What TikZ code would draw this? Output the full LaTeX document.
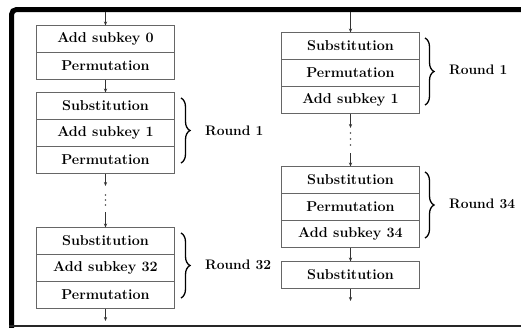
\documentclass[tikz,border=0pt]{standalone}
\usetikzlibrary{arrows.meta,decorations.pathreplacing}
\begin{document}
\begin{tikzpicture}[x=1pt,y=-1pt,
  row/.style={draw=black!60,line width=0.9pt,minimum width=138pt,minimum height=27pt,inner sep=0pt,outer sep=0pt,
    font=\fontsize{14.3}{16}\selectfont\bfseries,anchor=north},
  flow/.style={draw=black!80,line width=0.7pt,-{Stealth[length=4pt,width=3.2pt]}},
  rbrace/.style={draw=black,line width=1.3pt,decorate,decoration={brace,amplitude=9pt}},
  lbl/.style={font=\fontsize{13.8}{15}\selectfont\bfseries,anchor=west,inner sep=0pt},
  dot/.style={fill=black!70,circle,inner sep=0pt,minimum size=1.6pt}]
\useasboundingbox (0,0) rectangle (521,327);
% frame
\draw[line width=5pt,rounded corners=5pt] (11.5,330) -- (11.5,9.5) -- (530,9.5);
\draw[line width=1.6pt,black!85] (9,326) -- (521,326);

% left column
\coordinate (lin) at (105.5,12);
\node[row] (l1a) at (105.5,25.5) {Add subkey 0};
\node[row] (l1b) at (l1a.south) {Permutation};
\node[row] (l2a) at (105.5,92.5) {Substitution};
\node[row] (l2b) at (l2a.south) {Add subkey 1};
\node[row] (l2c) at (l2b.south) {Permutation};
\coordinate (ld1) at (105.5,186);
\coordinate (ld2) at (105.5,212);
\node[dot] (ldot1) at (105.5,195) {};
\node[dot] (ldot2) at (105.5,200) {};
\node[dot] (ldot3) at (105.5,205) {};
\node[row] (l3a) at (105.5,227.5) {Substitution};
\node[row] (l3b) at (l3a.south) {Add subkey 32};
\node[row] (l3c) at (l3b.south) {Permutation};
\coordinate (lout) at (105.5,321);
\draw[flow] (lin) -- (l1a.north);
\draw[flow] (l1b.south) -- (l2a.north);
\draw[flow] (l2c.south) -- (ld1);
\draw[flow] (ld2) -- (l3a.north);
\draw[flow] (l3c.south) -- (lout);
\draw[rbrace] (181,98) -- (181,163);
\node[lbl] (lr1) at (205,131) {Round 1};
\draw[rbrace] (181,233) -- (181,298);
\node[lbl] (lr32) at (205,265) {Round 32};

% right column
\coordinate (rin) at (350.5,12);
\node[row] (r1a) at (350.5,32.5) {Substitution};
\node[row] (r1b) at (r1a.south) {Permutation};
\node[row] (r1c) at (r1b.south) {Add subkey 1};
\coordinate (rd1) at (350.5,128);
\coordinate (rd2) at (350.5,153);
\node[dot] (rdot1) at (350.5,133) {};
\node[dot] (rdot2) at (350.5,139) {};
\node[dot] (rdot3) at (350.5,145) {};
\node[row] (r2a) at (350.5,166.5) {Substitution};
\node[row] (r2b) at (r2a.south) {Permutation};
\node[row] (r2c) at (r2b.south) {Add subkey 34};
\node[row] (r3) at (350.5,261.5) {Substitution};
\coordinate (rout) at (350.5,301);
\draw[flow] (rin) -- (r1a.north);
\draw[flow] (r1c.south) -- (rd1);
\draw[flow] (rd2) -- (r2a.north);
\draw[flow] (r2c.south) -- (r3.north);
\draw[flow] (r3.south) -- (rout);
\draw[rbrace] (425,38) -- (425,105);
\node[lbl] (rr1) at (449,70) {Round 1};
\draw[rbrace] (425,172) -- (425,238);
\node[lbl] (rr34) at (449,204) {Round 34};
\end{tikzpicture}
\end{document}
